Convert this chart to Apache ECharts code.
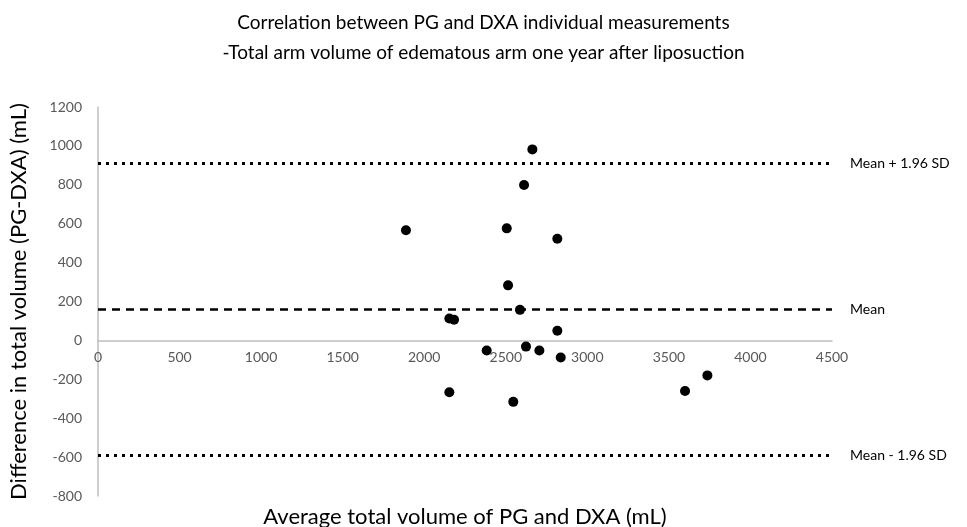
<!DOCTYPE html>
<html>
<head>
<meta charset="utf-8">
<script src="https://cdn.jsdelivr.net/npm/echarts@6/dist/echarts.min.js"></script>
<style>
  html, body { margin: 0; padding: 0; background: #fff; }
  #chart { width: 967px; height: 527px; }
</style>
</head>
<body>
<div id="chart"></div>
<script>
// average of PG and DXA (mL)
const avgVolume = [2663, 2612, 1888, 2506, 2816, 2514, 2587, 2154, 2183, 2816, 2624, 2383, 2706, 2837, 2154, 2546, 3599, 3736]
// difference PG - DXA (mL)
const diffVolume = [982, 799, 566, 576, 523, 283, 157, 113, 106, 50, -32, -52, -52, -88, -267, -316, -260, -180]

const meanDiff = 160
const upperLimit = 910
const lowerLimit = -590

const font = 'Lato, "Open Sans", sans-serif'

const chart = echarts.init(document.getElementById('chart'))

const points = avgVolume.map((x, i) => [x, diffVolume[i]])

const refLabel = {
  show: true,
  position: 'end',
  distance: 18,
  color: '#000',
  fontFamily: font,
  fontSize: 14
}

// grid geometry, used to lift the x axis labels up to the zero line
const gridTop = 107
const gridBottom = 31
const plotHeight = 527 - gridTop - gridBottom
const zeroOffset = -plotHeight * 800 / 2000

chart.setOption({
  animation: false,
  title: {
    text: 'Correlation between PG and DXA individual measurements\n-Total arm volume of edematous arm one year after liposuction',
    left: 'center',
    top: 3,
    textStyle: {
      fontFamily: font,
      fontSize: 19,
      fontWeight: 'normal',
      color: '#000',
      lineHeight: 30
    }
  },
  graphic: [{
    type: 'text',
    style: {
      x: 465,
      y: 517,
      text: 'Average total volume of PG and DXA (mL)',
      align: 'center',
      verticalAlign: 'middle',
      fontFamily: font,
      fontSize: 22,
      fill: '#000'
    }
  }],
  grid: {
    left: 98,
    right: 135,
    top: gridTop,
    bottom: gridBottom,
    outerBoundsMode: 'none',
    containLabel: false
  },
  xAxis: {
    type: 'value',
    min: 0,
    max: 4500,
    interval: 500,
    offset: zeroOffset,
    axisLine: { onZero: false, lineStyle: { color: '#bfbfbf', width: 1.5 } },
    axisTick: { show: false },
    splitLine: { show: false },
    axisLabel: {
      color: '#595959',
      fontFamily: font,
      fontSize: 14,
      margin: 10,
      formatter: v => String(v)
    }
  },
  yAxis: {
    type: 'value',
    min: -800,
    max: 1200,
    interval: 200,
    name: 'Difference in total volume (PG-DXA) (mL)',
    nameLocation: 'middle',
    nameGap: 68,
    nameTextStyle: {
      fontFamily: font,
      fontSize: 22,
      color: '#000'
    },
    axisLine: { show: true, onZero: false, lineStyle: { color: '#bfbfbf', width: 1.5 } },
    axisTick: { show: false },
    splitLine: { show: false },
    axisLabel: {
      color: '#595959',
      fontFamily: font,
      fontSize: 14,
      margin: 16,
      formatter: v => String(v)
    }
  },
  series: [{
    type: 'scatter',
    data: points,
    symbolSize: 10,
    itemStyle: { color: '#000', opacity: 1 },
    markLine: {
      silent: true,
      symbol: ['none', 'none'],
      data: [
        {
          yAxis: upperLimit,
          lineStyle: { color: '#000', width: 3, type: [3, 5], opacity: 1 },
          label: Object.assign({ formatter: 'Mean + 1.96 SD' }, refLabel)
        },
        {
          yAxis: meanDiff,
          lineStyle: { color: '#000', width: 2.5, type: [8, 6], opacity: 1 },
          label: Object.assign({ formatter: 'Mean' }, refLabel)
        },
        {
          yAxis: lowerLimit,
          lineStyle: { color: '#000', width: 3, type: [3, 5], opacity: 1 },
          label: Object.assign({ formatter: 'Mean - 1.96 SD' }, refLabel)
        }
      ]
    }
  }]
})

window.addEventListener('resize', () => {
  chart.resize()
})
</script>
</body>
</html>
